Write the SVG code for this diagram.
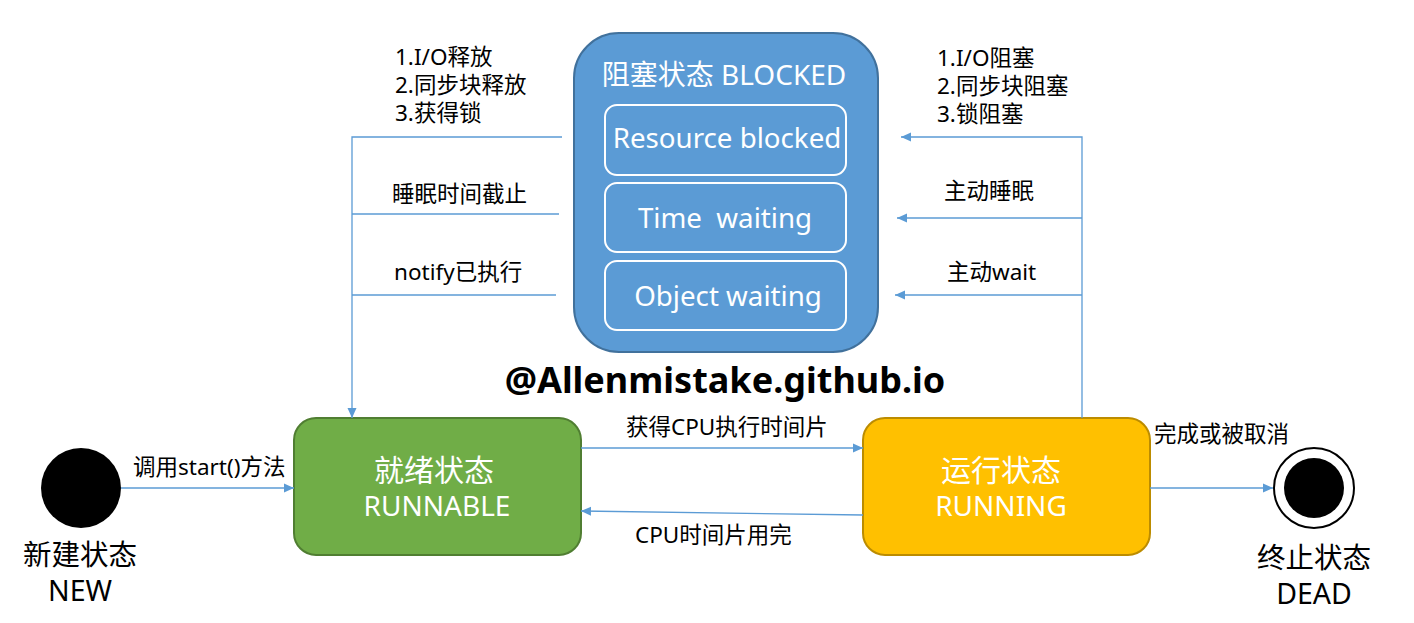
<svg xmlns="http://www.w3.org/2000/svg" width="1414" height="623" viewBox="0 0 1414 623">
<style>
text{font-family:"Noto Sans","Noto Sans CJK SC",sans-serif}
.lbl{font-size:22.5px;fill:#000}
.w{fill:#fff;font-size:28px;text-anchor:middle}
.wi{fill:#fff;font-size:27.7px;text-anchor:middle;white-space:pre}
.cj{font-size:30px}
.big{fill:#000;font-size:28.5px;text-anchor:middle}
.ln{stroke:#5B9BD5;stroke-width:1.3;fill:none}
.inner{fill:none;stroke:#fff;stroke-width:2}
</style>
<defs>
<marker id="ah" viewBox="0 0 10 10" refX="10" refY="5" markerWidth="10" markerHeight="10" markerUnits="userSpaceOnUse" orient="auto">
<path d="M0,0.5 L10,5 L0,9.5 Z" fill="#5B9BD5"/>
</marker>
</defs>
<rect width="1414" height="623" fill="#fff"/>
<g id="blocked">
<rect x="574" y="33" width="304" height="319" rx="45" fill="#5B9BD5" stroke="#41719C" stroke-width="2"/>
<text class="w" x="724" y="85" font-size="28.5">阻塞状态 BLOCKED</text>
<rect class="inner" x="605" y="105" width="241" height="70" rx="12"/>
<text class="wi" x="727" y="148">Resource blocked</text>
<rect class="inner" x="605" y="183" width="241" height="69" rx="12"/>
<text class="wi" x="725" y="228">Time  waiting</text>
<rect class="inner" x="605" y="261" width="241" height="69" rx="12"/>
<text class="wi" x="728" y="306">Object waiting</text>
</g>
<g id="new">
<circle cx="81" cy="488" r="40" fill="#000"/>
<text class="big cj" x="80" y="565">新建状态</text>
<text class="big" x="80" y="601">NEW</text>
</g>
<g id="runnable">
<rect x="294" y="418" width="287" height="137" rx="22" fill="#70AD47" stroke="#507E32" stroke-width="2"/>
<text class="w cj" x="434" y="481">就绪状态</text>
<text class="w" x="437" y="516">RUNNABLE</text>
</g>
<g id="running">
<rect x="863" y="418" width="287" height="137" rx="22" fill="#FFC000" stroke="#BC8C00" stroke-width="2"/>
<text class="w cj" x="1001" y="481">运行状态</text>
<text class="w" x="1001" y="516">RUNNING</text>
</g>
<g id="dead">
<circle cx="1314" cy="488" r="40" fill="#fff" stroke="#000" stroke-width="2"/>
<circle cx="1314" cy="488" r="30" fill="#000"/>
<text class="big cj" x="1314" y="568">终止状态</text>
<text class="big" x="1314" y="604">DEAD</text>
</g>
<g id="watermark">
<text x="725" y="393" font-size="36" font-weight="bold" text-anchor="middle" fill="#000">@Allenmistake.github.io</text>
</g>
<g id="connectors">
<path class="ln" d="M562,137 H352 V418" marker-end="url(#ah)"/>
<path class="ln" d="M559,214 H352"/>
<path class="ln" d="M556,295 H352"/>
<path class="ln" d="M1082,418 V137 H901" marker-end="url(#ah)"/>
<path class="ln" d="M1082,218 H897" marker-end="url(#ah)"/>
<path class="ln" d="M1082,295 H895" marker-end="url(#ah)"/>
<path class="ln" d="M121,488 H294" marker-end="url(#ah)"/>
<path class="ln" d="M581,448 H863" marker-end="url(#ah)"/>
<path class="ln" d="M863,515 L581,511" marker-end="url(#ah)"/>
<path class="ln" d="M1150,488 H1273" marker-end="url(#ah)"/>
<text class="lbl" x="395" y="65">1.I/O释放</text>
<text class="lbl" x="395" y="93">2.同步块释放</text>
<text class="lbl" x="395" y="121">3.获得锁</text>
<text class="lbl" x="392" y="202">睡眠时间截止</text>
<text class="lbl" x="394" y="280">notify已执行</text>
<text class="lbl" x="937" y="66">1.I/O阻塞</text>
<text class="lbl" x="937" y="94">2.同步块阻塞</text>
<text class="lbl" x="937" y="122">3.锁阻塞</text>
<text class="lbl" x="944" y="199">主动睡眠</text>
<text class="lbl" x="947" y="280">主动wait</text>
<text class="lbl" x="133" y="475">调用start()方法</text>
<text class="lbl" x="626" y="435">获得CPU执行时间片</text>
<text class="lbl" x="635" y="543">CPU时间片用完</text>
<text class="lbl" x="1154" y="442">完成或被取消</text>
</g>
</svg>
